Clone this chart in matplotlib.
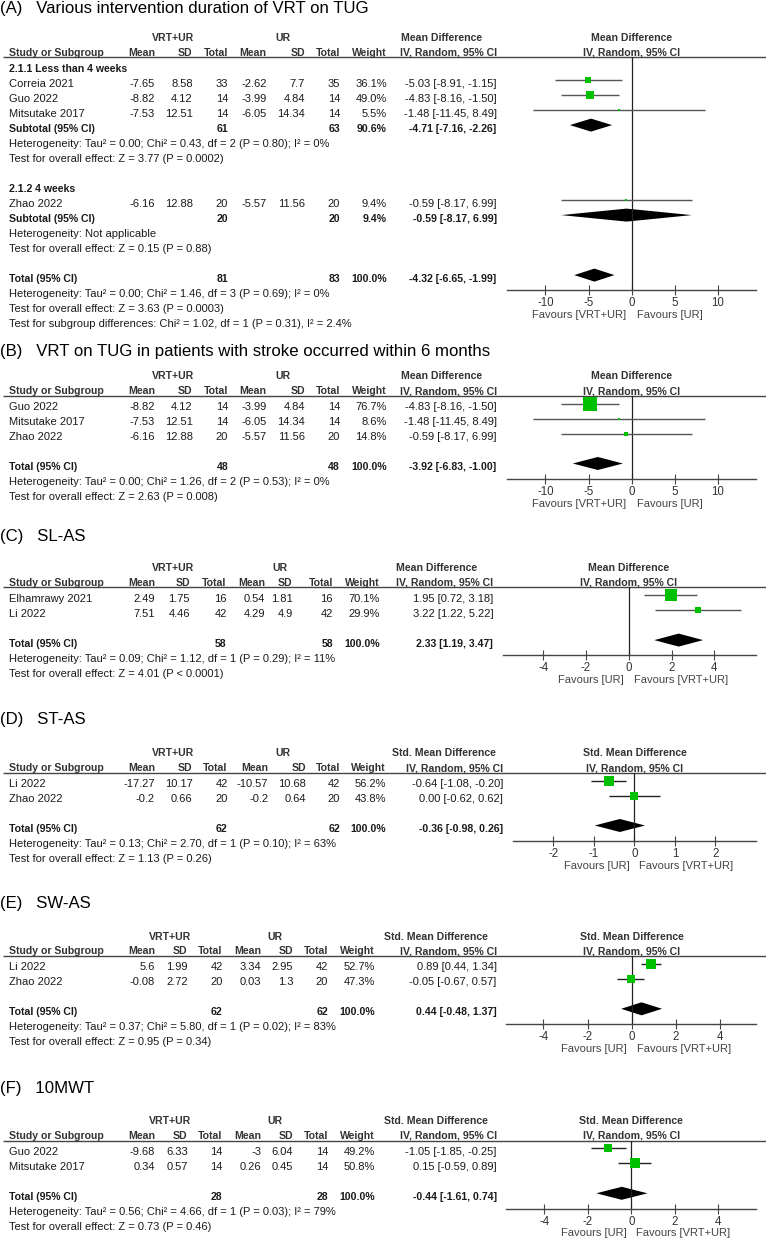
import matplotlib
matplotlib.use("Agg")
import matplotlib.pyplot as plt

plt.rcParams["font.family"] = ["Liberation Sans", "DejaVu Sans"]
plt.rcParams["axes.unicode_minus"] = False

W, H = 766, 1239

# ---------------- data ----------------
# (A) various intervention duration, TUG
a1_studies = ["Correia 2021", "Guo 2022", "Mitsutake 2017"]
a1_vrt = [(-7.65, 8.58, 33), (-8.82, 4.12, 14), (-7.53, 12.51, 14)]  # mean, sd, total
a1_ur = [(-2.62, 7.7, 35), (-3.99, 4.84, 14), (-6.05, 14.34, 14)]
a1_weight = [36.1, 49.0, 5.5]
a1_md = [(-5.03, -8.91, -1.15), (-4.83, -8.16, -1.50), (-1.48, -11.45, 8.49)]
a1_subtotal = (61, 63, 90.6, -4.71, -7.16, -2.26)

a2_studies = ["Zhao 2022"]
a2_vrt = [(-6.16, 12.88, 20)]
a2_ur = [(-5.57, 11.56, 20)]
a2_weight = [9.4]
a2_md = [(-0.59, -8.17, 6.99)]
a2_subtotal = (20, 20, 9.4, -0.59, -8.17, 6.99)

a_total = (81, 83, 100.0, -4.32, -6.65, -1.99)

# (B) stroke within 6 months, TUG
b_studies = ["Guo 2022", "Mitsutake 2017", "Zhao 2022"]
b_vrt = [(-8.82, 4.12, 14), (-7.53, 12.51, 14), (-6.16, 12.88, 20)]
b_ur = [(-3.99, 4.84, 14), (-6.05, 14.34, 14), (-5.57, 11.56, 20)]
b_weight = [76.7, 8.6, 14.8]
b_md = [(-4.83, -8.16, -1.50), (-1.48, -11.45, 8.49), (-0.59, -8.17, 6.99)]
b_total = (48, 48, 100.0, -3.92, -6.83, -1.00)

# (C) SL-AS
c_studies = ["Elhamrawy 2021", "Li 2022"]
c_vrt = [(2.49, 1.75, 16), (7.51, 4.46, 42)]
c_ur = [(0.54, 1.81, 16), (4.29, 4.9, 42)]
c_weight = [70.1, 29.9]
c_md = [(1.95, 0.72, 3.18), (3.22, 1.22, 5.22)]
c_total = (58, 58, 100.0, 2.33, 1.19, 3.47)

# (D) ST-AS
d_studies = ["Li 2022", "Zhao 2022"]
d_vrt = [(-17.27, 10.17, 42), (-0.2, 0.66, 20)]
d_ur = [(-10.57, 10.68, 42), (-0.2, 0.64, 20)]
d_weight = [56.2, 43.8]
d_md = [(-0.64, -1.08, -0.20), (0.00, -0.62, 0.62)]
d_total = (62, 62, 100.0, -0.36, -0.98, 0.26)

# (E) SW-AS
e_studies = ["Li 2022", "Zhao 2022"]
e_vrt = [(5.6, 1.99, 42), (-0.08, 2.72, 20)]
e_ur = [(3.34, 2.95, 42), (0.03, 1.3, 20)]
e_weight = [52.7, 47.3]
e_md = [(0.89, 0.44, 1.34), (-0.05, -0.67, 0.57)]
e_total = (62, 62, 100.0, 0.44, -0.48, 1.37)

# (F) 10MWT
f_studies = ["Guo 2022", "Mitsutake 2017"]
f_vrt = [(-9.68, 6.33, 14), (0.34, 0.57, 14)]
f_ur = [(-3, 6.04, 14), (0.26, 0.45, 14)]
f_weight = [49.2, 50.8]
f_md = [(-1.05, -1.85, -0.25), (0.15, -0.59, 0.89)]
f_total = (28, 28, 100.0, -0.44, -1.61, 0.74)

GREEN = "#00c000"
TXT = "#1a1a1a"
HDR = "#333333"


def study_rows(names, vrt, ur, weight, md):
    return [("study", n, v, u, w, m) for n, v, u, w, m in zip(names, vrt, ur, weight, md)]


def g(v):
    return f"{v:g}"


fig = plt.figure(figsize=(W / 100, H / 100), dpi=100)
tx = fig.add_axes([0, 0, 1, 1])
tx.set_xlim(0, W)
tx.set_ylim(H, 0)
tx.axis("off")


def draw_panel(title, title_y, line_y, cols, grp_x, effect, rows, x_px, xlim, ticks,
               fav, ci_col):
    tx.text(0, title_y + 6, title, fontsize=12.1, va="baseline", color="black")

    # table header
    h1, h2 = line_y - 20.5 + 4, line_y - 5.5 + 4
    bold = dict(fontsize=7.6, fontweight="bold", color=HDR, va="baseline")
    tx.text(grp_x[0], h1, "VRT+UR", ha="center", **bold)
    tx.text(grp_x[1], h1, "UR", ha="center", **bold)
    tx.text(grp_x[2], h1, effect, ha="center", **bold)
    tx.text(9.3, h2, "Study or Subgroup", ha="left", **bold)
    for x, lab in zip(cols, ["Mean", "SD", "Total", "Mean", "SD", "Total", "Weight",
                             "IV, Random, 95% CI"]):
        tx.text(x, h2, lab, ha="right", **bold)
    tx.plot([3, W], [line_y, line_y], color="#444444", lw=1, solid_capstyle="butt")

    # forest axes
    x0, x1 = x_px
    n_tot = [i for i, r in enumerate(rows) if r[0] == "total"][0]
    ax_y = line_y + 10.3 + 15 * n_tot + 12.7
    ax = fig.add_axes([x0 / W, 1 - ax_y / H, (x1 - x0) / W, (ax_y - line_y) / H])
    ax.set_facecolor("none")
    ax.set_xlim(*xlim)
    ax.set_ylim(ax_y, line_y)
    for s in ["left", "right", "top"]:
        ax.spines[s].set_visible(False)
    ax.spines["bottom"].set_color("#444444")
    ax.spines["bottom"].set_linewidth(1)
    ax.set_yticks([])
    ax.set_xticks(ticks)
    ax.set_xticklabels([g(t) for t in ticks])
    ax.tick_params(axis="x", direction="inout", length=6.5, width=0.8, color="#444444",
                   labelsize=8.3, labelcolor=HDR, pad=1.8)
    ax.axvline(0, color="#222222", lw=0.9)

    zero_px = x0 + (0 - xlim[0]) / (xlim[1] - xlim[0]) * (x1 - x0)
    tx.text(zero_px, h1, effect, ha="center", **bold)
    tx.text(zero_px, h2, "IV, Random, 95% CI", ha="center", **bold)
    tx.text(zero_px - 5, ax_y + 24 + 4, fav[0], ha="right", va="baseline", fontsize=8,
            color="#444444")
    tx.text(zero_px + 5, ax_y + 24 + 4, fav[1], ha="left", va="baseline", fontsize=8,
            color="#444444")

    reg = dict(fontsize=8, color=TXT, va="baseline")
    bld = dict(fontsize=7.6, color=TXT, va="baseline", fontweight="bold")
    for i, r in enumerate(rows):
        y = line_y + 10.3 + 15 * i
        yb = y + 4
        ym = y - 2.5
        kind = r[0]
        if kind == "group":
            tx.text(9.3, yb, r[1], ha="left", **bld)
        elif kind == "note":
            tx.text(9.3, yb, r[1], ha="left", **reg)
        elif kind == "study":
            _, name, v, u, w, m = r
            tx.text(9.3, yb, name, ha="left", **reg)
            vals = [g(v[0]), g(v[1]), str(v[2]), g(u[0]), g(u[1]), str(u[2]),
                    f"{w:.1f}%", f"{m[0]:.2f} [{m[1]:.2f}, {m[2]:.2f}]"]
            for x, s in zip(cols, vals):
                tx.text(x, yb, s, ha="right", **reg)
            ax.hlines(ym, m[1], m[2], color=ci_col, lw=1)
            side = max(2.5, 1.2 + 0.155 * w)
            ax.plot([m[0]], [ym], marker="s", ms=side * 0.72, mew=0, color=GREEN)
        elif kind in ("subtotal", "total"):
            _, label, t = r
            tx.text(9.3, yb, label, ha="left", **bld)
            for x, s in zip([cols[2], cols[5], cols[6], cols[7]],
                            [str(t[0]), str(t[1]), f"{t[2]:.1f}%",
                             f"{t[3]:.2f} [{t[4]:.2f}, {t[5]:.2f}]"]):
                tx.text(x, yb, s, ha="right", **bld)
            ax.fill([t[4], t[3], t[5], t[3]], [ym, ym - 6.5, ym, ym + 6.5],
                    color="black", lw=0)


cols_ab = [155, 192.7, 228.3, 266.7, 305, 340, 386.7, 496.7]
cols_c = [155, 190, 226.7, 265, 292.7, 333, 380, 493.3]
cols_d = [155, 192.7, 227.7, 268.3, 306, 340, 386, 503.3]
cols_ef = [155, 187.7, 222.7, 261, 293.3, 328.3, 375, 496.7]

rows_a = ([("group", "2.1.1 Less than 4 weeks")]
          + study_rows(a1_studies, a1_vrt, a1_ur, a1_weight, a1_md)
          + [("subtotal", "Subtotal (95% CI)", a1_subtotal),
             ("note", "Heterogeneity: Tau² = 0.00; Chi² = 0.43, df = 2 (P = 0.80); I² = 0%"),
             ("note", "Test for overall effect: Z = 3.77 (P = 0.0002)"),
             ("blank",),
             ("group", "2.1.2 4 weeks")]
          + study_rows(a2_studies, a2_vrt, a2_ur, a2_weight, a2_md)
          + [("subtotal", "Subtotal (95% CI)", a2_subtotal),
             ("note", "Heterogeneity: Not applicable"),
             ("note", "Test for overall effect: Z = 0.15 (P = 0.88)"),
             ("blank",),
             ("total", "Total (95% CI)", a_total),
             ("note", "Heterogeneity: Tau² = 0.00; Chi² = 1.46, df = 3 (P = 0.69); I² = 0%"),
             ("note", "Test for overall effect: Z = 3.63 (P = 0.0003)"),
             ("note", "Test for subgroup differences: Chi² = 1.02, df = 1 (P = 0.31), I² = 2.4%")])

rows_b = (study_rows(b_studies, b_vrt, b_ur, b_weight, b_md)
          + [("blank",), ("total", "Total (95% CI)", b_total),
             ("note", "Heterogeneity: Tau² = 0.00; Chi² = 1.26, df = 2 (P = 0.53); I² = 0%"),
             ("note", "Test for overall effect: Z = 2.63 (P = 0.008)")])

rows_c = (study_rows(c_studies, c_vrt, c_ur, c_weight, c_md)
          + [("blank",), ("total", "Total (95% CI)", c_total),
             ("note", "Heterogeneity: Tau² = 0.09; Chi² = 1.12, df = 1 (P = 0.29); I² = 11%"),
             ("note", "Test for overall effect: Z = 4.01 (P < 0.0001)")])

rows_d = (study_rows(d_studies, d_vrt, d_ur, d_weight, d_md)
          + [("blank",), ("total", "Total (95% CI)", d_total),
             ("note", "Heterogeneity: Tau² = 0.13; Chi² = 2.70, df = 1 (P = 0.10); I² = 63%"),
             ("note", "Test for overall effect: Z = 1.13 (P = 0.26)")])

rows_e = (study_rows(e_studies, e_vrt, e_ur, e_weight, e_md)
          + [("blank",), ("total", "Total (95% CI)", e_total),
             ("note", "Heterogeneity: Tau² = 0.37; Chi² = 5.80, df = 1 (P = 0.02); I² = 83%"),
             ("note", "Test for overall effect: Z = 0.95 (P = 0.34)")])

rows_f = (study_rows(f_studies, f_vrt, f_ur, f_weight, f_md)
          + [("blank",), ("total", "Total (95% CI)", f_total),
             ("note", "Heterogeneity: Tau² = 0.56; Chi² = 4.66, df = 1 (P = 0.03); I² = 79%"),
             ("note", "Test for overall effect: Z = 0.73 (P = 0.46)")])

fav_neg = ("Favours [VRT+UR]", "Favours [UR]")
fav_pos = ("Favours [UR]", "Favours [VRT+UR]")

draw_panel("(A)   Various intervention duration of VRT on TUG", 7, 57.3, cols_ab,
           (173, 283, 442), "Mean Difference", rows_a, (506.7, 756), (-14.5, 14.45),
           [-10, -5, 0, 5, 10], fav_neg, "#555555")
draw_panel("(B)   VRT on TUG in patients with stroke occurred within 6 months", 350, 395.7,
           cols_ab, (173, 283, 442), "Mean Difference", rows_b, (506.7, 756),
           (-14.5, 14.45), [-10, -5, 0, 5, 10], fav_neg, "#555555")
draw_panel("(C)   SL-AS", 535, 587.3, cols_c, (172.7, 280, 436.7), "Mean Difference",
           rows_c, (502.7, 756), (-5.89, 5.94), [-4, -2, 0, 2, 4], fav_pos, "#555555")
draw_panel("(D)   ST-AS", 717.7, 772.7, cols_d, (173, 283, 444), "Std. Mean Difference",
           rows_d, (513.3, 756), (-2.99, 3.0), [-2, -1, 0, 1, 2], fav_pos, "#222222")
draw_panel("(E)   SW-AS", 901.7, 956, cols_ef, (170, 275.3, 435.8), "Std. Mean Difference",
           rows_e, (506, 756), (-5.69, 5.62), [-4, -2, 0, 2, 4], fav_pos, "#222222")
draw_panel("(F)   10MWT", 1086.7, 1140.5, cols_ef, (170, 275.3, 435.8),
           "Std. Mean Difference", rows_f, (506, 756), (-5.76, 5.73), [-4, -2, 0, 2, 4],
           fav_pos, "#222222")

fig.savefig("out.png", dpi=100, facecolor="white")
